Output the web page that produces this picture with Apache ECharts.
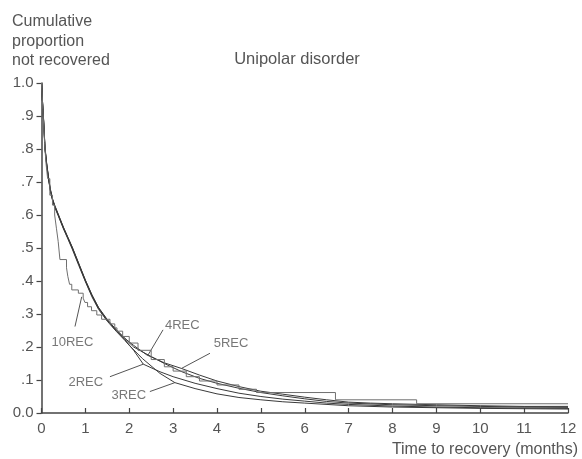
<!DOCTYPE html>
<html>
<head>
<meta charset="utf-8">
<script src="https://cdn.jsdelivr.net/npm/echarts@6/dist/echarts.min.js"></script>
<style>
  html, body { margin: 0; padding: 0; background: #fff; }
  #chart { width: 582px; height: 459px; }
</style>
</head>
<body>
<div id="chart"></div>
<script>
// Kaplan–Meier style curves: [months, cumulative proportion not recovered]
const rec2 = [[0,1.0],[0.02,0.95],[0.05,0.88],[0.08,0.80],[0.12,0.75],[0.16,0.71],[0.2,0.675],[0.25,0.648],[0.3,0.627],[0.38,0.60],[0.5,0.56],[0.6,0.53],[0.7,0.50],[0.85,0.45],[1.0,0.40],[1.15,0.355],[1.3,0.318],[1.5,0.28],[1.7,0.25],[1.9,0.222],[2.1,0.19],[2.32,0.148],[2.7,0.125],[3.0,0.11],[3.5,0.09],[4.0,0.074],[4.5,0.06],[5.0,0.05],[5.5,0.042],[6.0,0.036],[6.5,0.03],[7.0,0.026],[8.0,0.021],[9.0,0.018],[10.0,0.016],[11.0,0.015],[12.0,0.014]];
const rec3 = [[0,1.0],[0.02,0.95],[0.05,0.88],[0.08,0.80],[0.12,0.75],[0.16,0.71],[0.2,0.675],[0.25,0.645],[0.3,0.624],[0.38,0.598],[0.5,0.558],[0.6,0.528],[0.7,0.497],[0.85,0.447],[1.0,0.398],[1.15,0.352],[1.3,0.314],[1.5,0.278],[1.7,0.248],[1.9,0.22],[2.0,0.205],[2.3,0.165],[2.7,0.12],[3.04,0.092],[3.5,0.074],[4.0,0.058],[4.5,0.047],[5.0,0.04],[5.5,0.034],[6.0,0.03],[7.0,0.022],[8.0,0.018],[10.0,0.014],[12.0,0.012]];
const rec4 = [[0,1.0],[0.02,0.95],[0.05,0.885],[0.08,0.805],[0.12,0.755],[0.16,0.715],[0.2,0.68],[0.25,0.65],[0.3,0.63],[0.38,0.603],[0.5,0.563],[0.6,0.533],[0.7,0.503],[0.85,0.453],[1.0,0.403],[1.15,0.358],[1.3,0.32],[1.5,0.283],[1.7,0.253],[1.9,0.226],[2.1,0.2],[2.43,0.176],[2.8,0.15],[3.2,0.125],[3.6,0.105],[4.0,0.09],[4.5,0.075],[5.0,0.062],[5.5,0.052],[6.0,0.043],[6.5,0.035],[7.0,0.03],[8.0,0.025],[9.0,0.022],[10.0,0.02],[11.0,0.018],[12.0,0.017]];
const rec5 = [[0,1.0],[0.02,0.95],[0.05,0.882],[0.08,0.802],[0.12,0.752],[0.16,0.712],[0.2,0.678],[0.25,0.647],[0.3,0.628],[0.38,0.602],[0.5,0.562],[0.6,0.532],[0.7,0.502],[0.85,0.452],[1.0,0.402],[1.15,0.357],[1.3,0.318],[1.5,0.282],[1.7,0.252],[1.9,0.226],[2.1,0.205],[2.4,0.176],[2.8,0.152],[3.19,0.135],[3.6,0.115],[4.0,0.097],[4.5,0.08],[5.0,0.066],[5.5,0.057],[6.0,0.048],[6.5,0.04],[7.0,0.033],[7.5,0.03],[8.0,0.028],[9.0,0.025],[10.0,0.022],[11.0,0.02],[12.0,0.02]];
const rec10 = [[0,1.0],[0.03,0.92],[0.07,0.82],[0.1,0.76],[0.14,0.71],[0.19,0.66],[0.25,0.63],[0.3,0.60],[0.34,0.56],[0.38,0.52],[0.42,0.465],[0.57,0.44],[0.6,0.414],[0.64,0.39],[0.69,0.373],[0.84,0.363],[0.95,0.348],[0.99,0.335],[1.05,0.322],[1.14,0.31],[1.26,0.297],[1.37,0.284],[1.56,0.27],[1.67,0.258],[1.72,0.248],[1.85,0.232],[2.0,0.212],[2.2,0.19],[2.5,0.162],[2.8,0.14],[3.0,0.127],[3.3,0.11],[3.6,0.097],[4.0,0.085],[4.5,0.072],[4.9,0.062],[6.7,0.04],[8.55,0.028],[12.0,0.028]];

// Axis tick labels
const yTickLabels = ['0.0', '.1', '.2', '.3', '.4', '.5', '.6', '.7', '.8', '.9', '1.0'];
const xTickLabels = ['0', '1', '2', '3', '4', '5', '6', '7', '8', '9', '10', '11', '12'];

// Curve labels [months, proportion, text] and their leader lines [[from], [to]]
const curveLabels = [[0.706, 0.214, '10REC'], [3.21, 0.265, '4REC'], [4.32, 0.212, '5REC'], [1.01, 0.092, '2REC'], [1.99, 0.052, '3REC']];
const leaders = [
  [[0.763, 0.262], [0.916, 0.352]],
  [[2.77, 0.252], [2.43, 0.176]],
  [[3.84, 0.181], [3.19, 0.135]],
  [[1.56, 0.11], [2.32, 0.148]],
  [[2.47, 0.065], [3.04, 0.092]]
];

const FONT = '"Liberation Sans", Arial, sans-serif';
const TEXT = '#555';
const AXIS = '#444';

const curve = (name, data, color, stepped) => ({
  name, type: 'line', data, step: stepped ? 'end' : false,
  symbol: 'none', silent: true,
  lineStyle: { color, width: 1 }, z: 3
});

const series = [
  curve('2REC', rec2, '#3a3a3a', false),
  curve('3REC', rec3, '#3a3a3a', false),
  curve('4REC', rec4, '#3a3a3a', false),
  curve('5REC', rec5, '#3a3a3a', false),
  curve('10REC', rec10, '#6f6f6f', true)
];
leaders.forEach((seg, i) => series.push({
  name: 'leader' + i, type: 'line', data: seg, symbol: 'none', silent: true,
  lineStyle: { color: '#555', width: 1 }, z: 2
}));
series.push({
  name: 'labels', type: 'scatter', data: curveLabels, symbolSize: 0, silent: true,
  label: {
    show: true, position: 'inside', formatter: p => p.data[2],
    color: TEXT, fontFamily: FONT, fontSize: 13
  }
});

const chart = echarts.init(document.getElementById('chart'), null, { renderer: 'canvas' });
chart.setOption({
  animation: false,
  backgroundColor: '#fff',
  title: {
    text: 'Unipolar disorder', left: 292, top: 46, textAlign: 'center',
    textStyle: { color: TEXT, fontFamily: FONT, fontSize: 16.5, fontWeight: 'normal' }
  },
  graphic: [{
    type: 'text', left: 12, top: 12,
    style: {
      text: 'Cumulative\nproportion\nnot recovered',
      fill: TEXT, font: '16px ' + FONT, lineHeight: 19.5
    }
  }],
  grid: { left: 41.5, right: 14, top: 83, bottom: 46 },
  xAxis: {
    type: 'value', min: 0, max: 12, interval: 1,
    name: 'Time to recovery (months)', nameLocation: 'end',
    nameGap: 0,
    nameTextStyle: { color: TEXT, fontFamily: FONT, fontSize: 16, align: 'right', verticalAlign: 'top', padding: [29, -10, 0, 0] },
    axisLine: { show: true, lineStyle: { color: AXIS, width: 1.5 } },
    axisTick: { show: true, inside: true, length: 5, lineStyle: { color: AXIS, width: 1.2 } },
    axisLabel: { color: TEXT, fontFamily: FONT, fontSize: 15, margin: 8, formatter: v => xTickLabels[Math.round(v)] },
    splitLine: { show: false }
  },
  yAxis: {
    type: 'value', min: 0, max: 1, interval: 0.1,
    axisLine: { show: true, lineStyle: { color: AXIS, width: 1.5 } },
    axisTick: { show: true, inside: false, length: 5, lineStyle: { color: AXIS, width: 1.2 } },
    axisLabel: { color: TEXT, fontFamily: FONT, fontSize: 15, margin: 8, formatter: v => yTickLabels[Math.round(v * 10)] },
    splitLine: { show: false }
  },
  series
});
</script>
</body>
</html>
